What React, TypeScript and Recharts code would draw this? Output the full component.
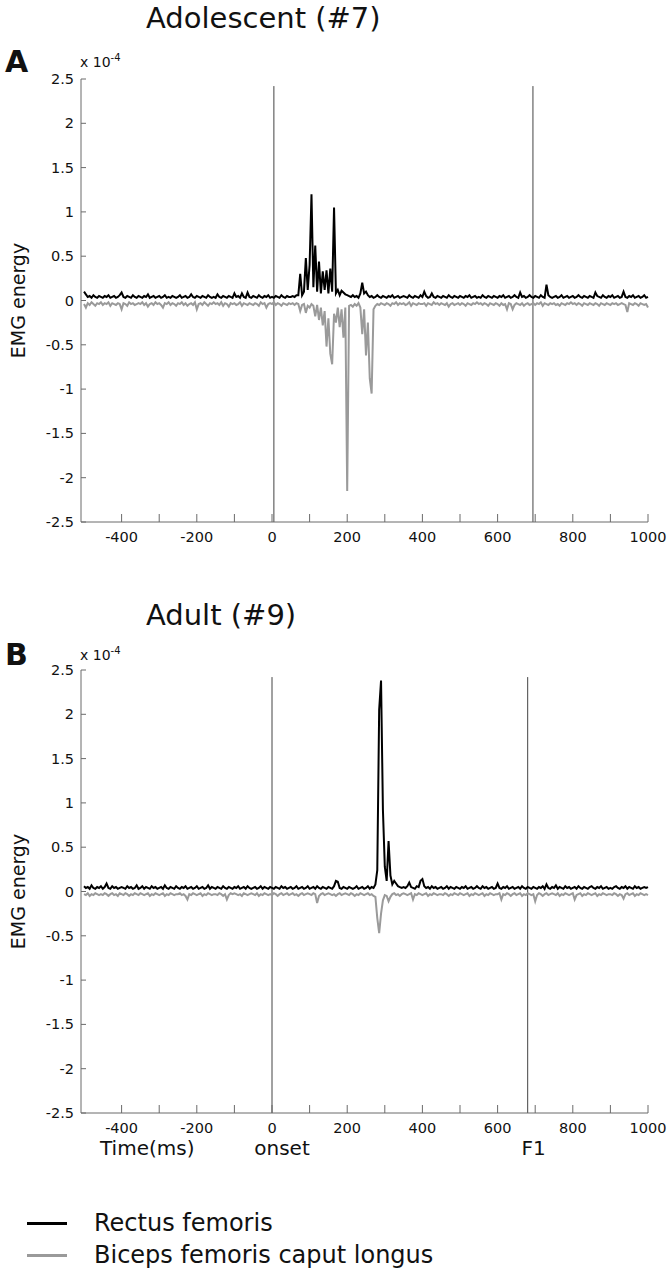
import { LineChart, Line, XAxis, YAxis, ReferenceLine } from "recharts";

const FONT = "'DejaVu Sans', sans-serif";
const AXIS = "#6b6b6b";
const EVENT = "#444";
const INK = "#111";

// sampling grid of the traces (ms)
const T0 = -500;
const DT = 5;

const xTicks = [-400, -300, -200, -100, 0, 100, 200, 300, 400, 500, 600, 700, 800, 900, 1000];
const xLabelled = [-400, -200, 0, 200, 400, 600, 800, 1000];
const yTicks = [-2.5, -2, -1.5, -1, -0.5, 0, 0.5, 1, 1.5, 2, 2.5];

// EMG energy in units of 0.01 x 10^-4, one row = 50 ms starting at -500 ms
const adolescentRectus = [
  10, 7, 4, 5, 3, 6, 4, 3, 5, 4,
  3, 5, 4, 6, 3, 4, 5, 3, 4, 6,
  9, 4, 3, 5, 4, 3, 6, 4, 3, 5,
  4, 3, 5, 4, 7, 3, 4, 5, 3, 4,
  5, 3, 4, 6, 3, 4, 3, 5, 4, 3,
  4, 6, 3, 4, 5, 3, 4, 7, 4, 3,
  5, 4, 3, 5, 4, 3, 6, 4, 3, 4,
  3, 7, 4, 3, 5, 4, 3, 5, 4, 3,
  8, 4, 5, 3, 8, 4, 3, 9, 4, 3,
  5, 4, 3, 6, 4, 3, 5, 4, 6, 3,
  4, 3, 5, 4, 3, 6, 4, 3, 5, 4,
  4, 5, 4, 6, 6, 30, 6, 10, 48, 12,
  40, 120, 15, 62, 10, 44, 8, 33, 12, 34,
  8, 36, 10, 105, 8, 12, 6, 11, 9, 7,
  6, 5, 4, 6, 4, 5, 3, 8, 20, 8,
  10, 6, 4, 5, 3, 4, 6, 4, 3, 5,
  4, 3, 5, 4, 6, 3, 4, 5, 3, 4,
  5, 4, 3, 6, 4, 3, 5, 4, 3, 6,
  4, 10, 5, 3, 4, 8, 4, 3, 5, 4,
  3, 5, 4, 3, 6, 4, 3, 5, 4, 3,
  5, 4, 3, 5, 4, 6, 3, 4, 5, 3,
  4, 3, 6, 4, 3, 5, 4, 3, 5, 4,
  3, 5, 4, 6, 3, 4, 5, 3, 4, 6,
  4, 3, 9, 4, 5, 3, 4, 6, 4, 3,
  5, 4, 3, 6, 4, 3, 18, 6, 4, 3,
  4, 5, 3, 4, 6, 3, 4, 5, 3, 4,
  5, 3, 4, 6, 4, 3, 5, 4, 3, 5,
  4, 3, 9, 5, 4, 3, 6, 4, 3, 5,
  4, 6, 3, 4, 5, 3, 4, 10, 4, 3,
  5, 4, 6, 3, 4, 5, 3, 4, 6, 3,
  4,
];

const adolescentBiceps = [
  -4, -8, -3, -5, -2, -4, -6, -3, -4, -2,
  -5, -3, -4, -2, -6, -3, -4, -5, -3, -4,
  -10, -3, -4, -6, -2, -4, -3, -5, -4, -3,
  -4, -2, -5, -3, -7, -4, -3, -5, -2, -4,
  -3, -5, -8, -3, -4, -2, -5, -3, -4, -6,
  -3, -4, -2, -5, -3, -6, -4, -3, -5, -2,
  -10, -4, -3, -5, -2, -4, -6, -3, -4, -2,
  -4, -3, -5, -2, -6, -3, -4, -7, -3, -4,
  -3, -5, -4, -2, -6, -3, -4, -5, -3, -4,
  -5, -3, -4, -6, -2, -4, -3, -8, -4, -3,
  -4, -2, -5, -3, -4, -6, -3, -4, -5, -3,
  -4, -3, -5, -3, -4, -12, -5, -4, -14, -6,
  -8, -4, -6, -18, -5, -22, -8, -28, -12, -52,
  -20, -60, -72, -15, -25, -8, -30, -10, -42, -8,
  -215, -6, -5, -7, -4, -6, -3, -8, -38, -10,
  -62, -25, -88, -105, -10, -6, -4, -5, -3, -4,
  -5, -3, -4, -6, -3, -4, -2, -5, -3, -4,
  -3, -5, -4, -2, -6, -3, -4, -5, -3, -4,
  -4, -3, -6, -3, -4, -5, -2, -4, -3, -5,
  -3, -4, -5, -3, -7, -4, -3, -5, -4, -3,
  -5, -3, -4, -6, -3, -4, -5, -3, -4, -2,
  -4, -3, -5, -3, -4, -6, -3, -4, -5, -3,
  -4, -6, -3, -5, -4, -10, -3, -4, -10, -5,
  -3, -4, -5, -3, -6, -4, -3, -5, -4, -3,
  -5, -3, -4, -2, -6, -3, -4, -5, -3, -4,
  -3, -5, -4, -6, -3, -4, -5, -3, -4, -2,
  -4, -3, -5, -3, -4, -6, -3, -4, -5, -3,
  -4, -5, -3, -4, -6, -3, -4, -5, -3, -4,
  -5, -3, -4, -3, -5, -4, -3, -4, -5, -13,
  -3, -4, -5, -3, -4, -6, -3, -4, -5, -4,
  -8,
];

const adultRectus = [
  6, 4, 5, 3, 7, 4, 3, 5, 4, 6,
  3, 5, 9, 4, 3, 6, 4, 5, 3, 4,
  5, 4, 3, 6, 4, 5, 3, 4, 7, 3,
  4, 6, 3, 5, 4, 3, 6, 4, 5, 3,
  4, 5, 3, 7, 4, 3, 5, 4, 3, 6,
  4, 3, 5, 4, 6, 3, 4, 5, 3, 4,
  6, 3, 4, 5, 3, 4, 7, 3, 5, 4,
  3, 5, 4, 3, 6, 4, 3, 5, 4, 3,
  5, 4, 6, 3, 4, 5, 3, 6, 4, 3,
  4, 5, 3, 4, 6, 3, 5, 4, 3, 5,
  4, 3, 5, 4, 3, 6, 4, 5, 3, 4,
  5, 3, 4, 6, 3, 4, 5, 3, 4, 6,
  3, 4, 5, 3, 6, 4, 3, 5, 4, 3,
  5, 4, 3, 6, 12, 11, 4, 3, 5, 4,
  3, 5, 4, 3, 4, 6, 3, 4, 5, 3,
  4, 6, 3, 5, 4, 8, 24, 205, 238, 92,
  28, 12, 57, 18, 8, 12, 9, 6, 5, 4,
  5, 4, 6, 10, 5, 4, 3, 6, 5, 12,
  14, 6, 4, 5, 3, 6, 4, 5, 3, 4,
  5, 3, 4, 6, 3, 5, 4, 3, 5, 4,
  3, 5, 4, 6, 3, 4, 5, 3, 4, 6,
  4, 3, 6, 4, 5, 3, 4, 5, 3, 4,
  9, 4, 3, 5, 4, 6, 3, 4, 5, 3,
  4, 5, 3, 6, 4, 3, 5, 4, 3, 5,
  4, 3, 5, 4, 6, 3, 8, 4, 3, 5,
  4, 7, 3, 5, 4, 3, 6, 4, 5, 3,
  4, 5, 3, 6, 4, 3, 5, 4, 3, 5,
  6, 4, 3, 5, 4, 6, 3, 4, 5, 3,
  4, 3, 5, 6, 4, 3, 5, 4, 6, 3,
  5, 4, 3, 6, 4, 5, 3, 4, 5, 4,
  5,
];

const adultBiceps = [
  -3, -4, -2, -5, -3, -4, -2, -3, -4, -3,
  -4, -2, -3, -5, -3, -2, -4, -3, -5, -2,
  -3, -4, -2, -3, -5, -3, -4, -2, -3, -4,
  -2, -3, -4, -3, -2, -5, -3, -4, -2, -3,
  -4, -3, -2, -5, -3, -4, -2, -3, -4, -3,
  -3, -2, -4, -3, -5, -9, -3, -4, -2, -3,
  -4, -3, -2, -5, -3, -4, -2, -3, -4, -3,
  -3, -4, -2, -3, -5, -3, -9, -4, -2, -3,
  -2, -3, -4, -3, -5, -2, -3, -4, -3, -2,
  -3, -4, -2, -5, -3, -4, -2, -3, -4, -3,
  -4, -2, -3, -5, -3, -2, -4, -3, -2, -4,
  -3, -2, -4, -3, -5, -3, -2, -4, -3, -2,
  -3, -4, -2, -3, -13, -5, -3, -2, -4, -3,
  -2, -3, -4, -3, -5, -3, -2, -4, -3, -2,
  -3, -4, -2, -3, -5, -3, -4, -2, -3, -4,
  -3, -2, -4, -3, -5, -6, -30, -47, -25, -10,
  -4, -5, -11, -6, -3, -2, -4, -3, -5, -3,
  -2, -3, -4, -3, -2, -9, -3, -4, -2, -3,
  -4, -3, -2, -5, -3, -4, -2, -3, -4, -3,
  -3, -4, -2, -3, -5, -3, -4, -2, -3, -4,
  -2, -3, -4, -3, -2, -5, -3, -4, -2, -3,
  -4, -3, -2, -5, -3, -4, -2, -3, -4, -3,
  -3, -2, -9, -3, -4, -2, -3, -5, -3, -2,
  -4, -3, -2, -5, -3, -4, -2, -3, -4, -3,
  -11, -4, -2, -3, -5, -3, -2, -4, -3, -2,
  -3, -4, -2, -5, -3, -4, -2, -3, -4, -3,
  -2, -9, -4, -3, -2, -5, -3, -4, -2, -3,
  -4, -3, -2, -5, -3, -4, -2, -3, -4, -3,
  -3, -4, -2, -3, -5, -3, -4, -8, -3, -2,
  -4, -3, -2, -5, -3, -4, -2, -3, -4, -3,
  -4,
];

const legendItems = [
  { name: "Rectus femoris", color: "#000" },
  { name: "Biceps femoris caput longus", color: "#9a9a9a" },
];

const buildRows = (rf: number[], bf: number[]) =>
  rf.map((v, i) => ({ t: T0 + i * DT, rf: v / 100, bf: bf[i] / 100 }));

const adolescentRows = buildRows(adolescentRectus, adolescentBiceps);
const adultRows = buildRows(adultRectus, adultBiceps);

function XTick(props: any) {
  const { x, y, payload } = props;
  const v = payload.value;
  return (
    <g>
      <line x1={x} x2={x} y1={y} y2={y - 8} stroke={AXIS} />
      {xLabelled.includes(v) && (
        <text x={x} y={y + 20} textAnchor="middle" fontSize={14.5} fontFamily={FONT} fill={INK}>
          {v}
        </text>
      )}
    </g>
  );
}

function YTick(props: any) {
  const { x, y, payload } = props;
  return (
    <g>
      <line x1={x} x2={x + 5} y1={y} y2={y} stroke={AXIS} />
      <text x={x - 7} y={y + 5} textAnchor="end" fontSize={14.5} fontFamily={FONT} fill={INK}>
        {payload.value}
      </text>
    </g>
  );
}

const eventLabel = (text: string, dx: number) => (p: any) => {
  const vb = p.viewBox || {};
  const bottom = Math.max(vb.y, vb.y + (vb.height || 0));
  return (
    <text x={vb.x + dx} y={bottom + 42} textAnchor="middle" fontSize={20} fontFamily={FONT} fill={INK}>
      {text}
    </text>
  );
};

interface PanelProps {
  top: number;
  height: number;
  plotTop: number;
  plotBottom: number;
  title: string;
  letter: string;
  titleY: number;
  letterY: number;
  expY: number;
  rows: { t: number; rf: number; bf: number }[];
  onset: number;
  f1: number;
  events?: boolean;
}

function Panel({ top, height, plotTop, plotBottom, title, letter, titleY, letterY, expY, rows, onset, f1, events }: PanelProps) {
  const midY = (plotTop + plotBottom) / 2;
  return (
    <div style={{ position: "absolute", left: 0, top, width: 672, height }}>
      <LineChart
        width={672}
        height={height}
        data={rows}
        margin={{ top: plotTop, right: 24, bottom: height - plotBottom - 30, left: 41 }}
      >
        <XAxis
          dataKey="t"
          type="number"
          domain={[-508, 1000]}
          ticks={xTicks}
          interval={0}
          height={30}
          tickSize={0}
          tickMargin={0}
          tickLine={false}
          axisLine={{ stroke: AXIS }}
          tick={(p: any) => <XTick {...p} />}
        />
        <YAxis
          type="number"
          domain={[-2.5, 2.5]}
          ticks={yTicks}
          interval={0}
          width={40}
          tickSize={0}
          tickMargin={0}
          tickLine={false}
          axisLine={{ stroke: AXIS }}
          tick={(p: any) => <YTick {...p} />}
        />
        <ReferenceLine
          segment={[{ x: onset, y: -2.5 }, { x: onset, y: 2.42 }]}
          stroke={EVENT}
          strokeWidth={1}
          label={events ? eventLabel("onset", 10) : undefined}
        />
        <ReferenceLine
          segment={[{ x: f1, y: -2.5 }, { x: f1, y: 2.42 }]}
          stroke={EVENT}
          strokeWidth={1}
          label={events ? eventLabel("F1", 6) : undefined}
        />
        <Line type="linear" dataKey="bf" stroke="#9a9a9a" strokeWidth={2} dot={false} isAnimationActive={false} />
        <Line type="linear" dataKey="rf" stroke="#000" strokeWidth={2} dot={false} isAnimationActive={false} />
      </LineChart>
      <svg width={672} height={height} style={{ position: "absolute", left: 0, top: 0, pointerEvents: "none" }}>
        <text x={146} y={titleY} fontSize={29} fontFamily={FONT} fill={INK}>
          {title}
        </text>
        <text x={5} y={letterY} fontSize={30} fontWeight="bold" fontFamily={FONT} fill={INK}>
          {letter}
        </text>
        <text x={80} y={expY} fontSize={14} fontFamily={FONT} fill={INK}>
          x 10
          <tspan fontSize={10} dy={-6}>
            -4
          </tspan>
        </text>
        <text
          x={18}
          y={midY}
          transform={`rotate(-90 18 ${midY})`}
          textAnchor="middle"
          dominantBaseline="central"
          fontSize={19}
          fontFamily={FONT}
          fill={INK}
        >
          EMG energy
        </text>
        {events && (
          <text x={100} y={plotBottom + 42} fontSize={20} fontFamily={FONT} fill={INK}>
            Time(ms)
          </text>
        )}
      </svg>
    </div>
  );
}

export default function App() {
  return (
    <div style={{ position: "absolute", left: 0, top: 0, width: 672, height: 1281, background: "#fff" }}>
      <Panel
        top={0}
        height={590}
        plotTop={79}
        plotBottom={522}
        title="Adolescent (#7)"
        letter="A"
        titleY={28}
        letterY={72}
        expY={67}
        rows={adolescentRows}
        onset={5}
        f1={694}
      />
      <Panel
        top={590}
        height={600}
        plotTop={80}
        plotBottom={523}
        title="Adult (#9)"
        letter="B"
        titleY={35}
        letterY={75}
        expY={70}
        rows={adultRows}
        onset={0}
        f1={680}
        events
      />
      {legendItems.map((item, i) => (
        <div key={item.name} style={{ position: "absolute", left: 0, top: 1207 + i * 32, height: 32, width: 672 }}>
          <div style={{ position: "absolute", left: 27, top: 15, width: 40, height: 3, background: item.color }} />
          <div
            style={{
              position: "absolute",
              left: 94,
              top: 0,
              height: 32,
              lineHeight: "32px",
              fontSize: 24,
              fontFamily: FONT,
              color: INK,
              whiteSpace: "nowrap",
            }}
          >
            {item.name}
          </div>
        </div>
      ))}
    </div>
  );
}
